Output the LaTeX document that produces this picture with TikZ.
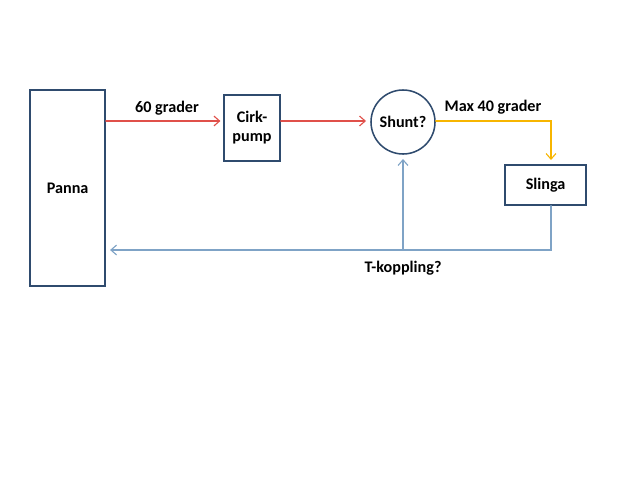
\documentclass[tikz,border=0pt]{standalone}
\usepackage{fontspec}
\setmainfont{Carlito}
\usetikzlibrary{arrows.meta,positioning,shapes.geometric}
\definecolor{ram}{HTML}{2F4B6E}
\definecolor{varm}{HTML}{E0504A}
\definecolor{gul}{HTML}{F7B500}
\definecolor{retur}{HTML}{7FA3C6}

\tikzset{
  enhet/.style={draw=ram,line width=1.1pt,fill=white,font=\fontsize{11.5}{13.5}\selectfont\bfseries,align=center},
  etikett/.style={font=\fontsize{11.5}{13.5}\selectfont\bfseries},
  flode/.style={line width=0.8pt,-{Straight Barb[length=4pt,width=7pt]}}
}

\begin{document}
\begin{tikzpicture}[line cap=round]
        \useasboundingbox (0,0) rectangle (16,12);
        % --- komponenter ---
        \node[enhet,minimum width=1.875cm,minimum height=4.9cm] (panna) at (1.69,7.3) {Panna};
        \node[enhet,minimum width=1.4cm,minimum height=1.65cm] (cirk) at (6.3,8.8) {Cirk-\\pump};
        \node[enhet,circle,minimum size=1.6cm,inner sep=0pt] (shunt) at (10.075,8.95) {Shunt?};
        \node[enhet,minimum width=2.025cm,minimum height=1cm] (slinga) at (13.64,7.375) {Slinga};
        % --- hjälppunkter ---
        \coordinate (het) at (0,8.975);
        \coordinate (horn) at (13.775,8.975);
        \coordinate (ner) at (13.775,5.75);
        \coordinate (tee) at (shunt.south |- ner);
        % --- framledning ---
        \draw[flode,varm] (panna.east |- het) -- ([xshift=-2pt]cirk.west |- het);
        \draw[flode,varm] (cirk.east |- het) -- ([xshift=-3pt]shunt.west |- het);
        \draw[flode,gul] (shunt.east |- het) -- (horn) -- ([yshift=3pt]horn |- slinga.north);
        % --- retur ---
        \draw[flode,retur] (horn |- slinga.south) -- (ner) -- ([xshift=3pt]panna.east |- ner);
        \draw[flode,retur] (tee) -- ([yshift=-3pt]shunt.south);
        % --- texter ---
        \node[etikett] (t60) at (4.175,9.3) {60 grader};
        \node[etikett] (t40) at (12.325,9.325) {Max 40 grader};
        \node[etikett] (ttee) at (10.075,5.3) {T-koppling?};
\end{tikzpicture}
\end{document}
